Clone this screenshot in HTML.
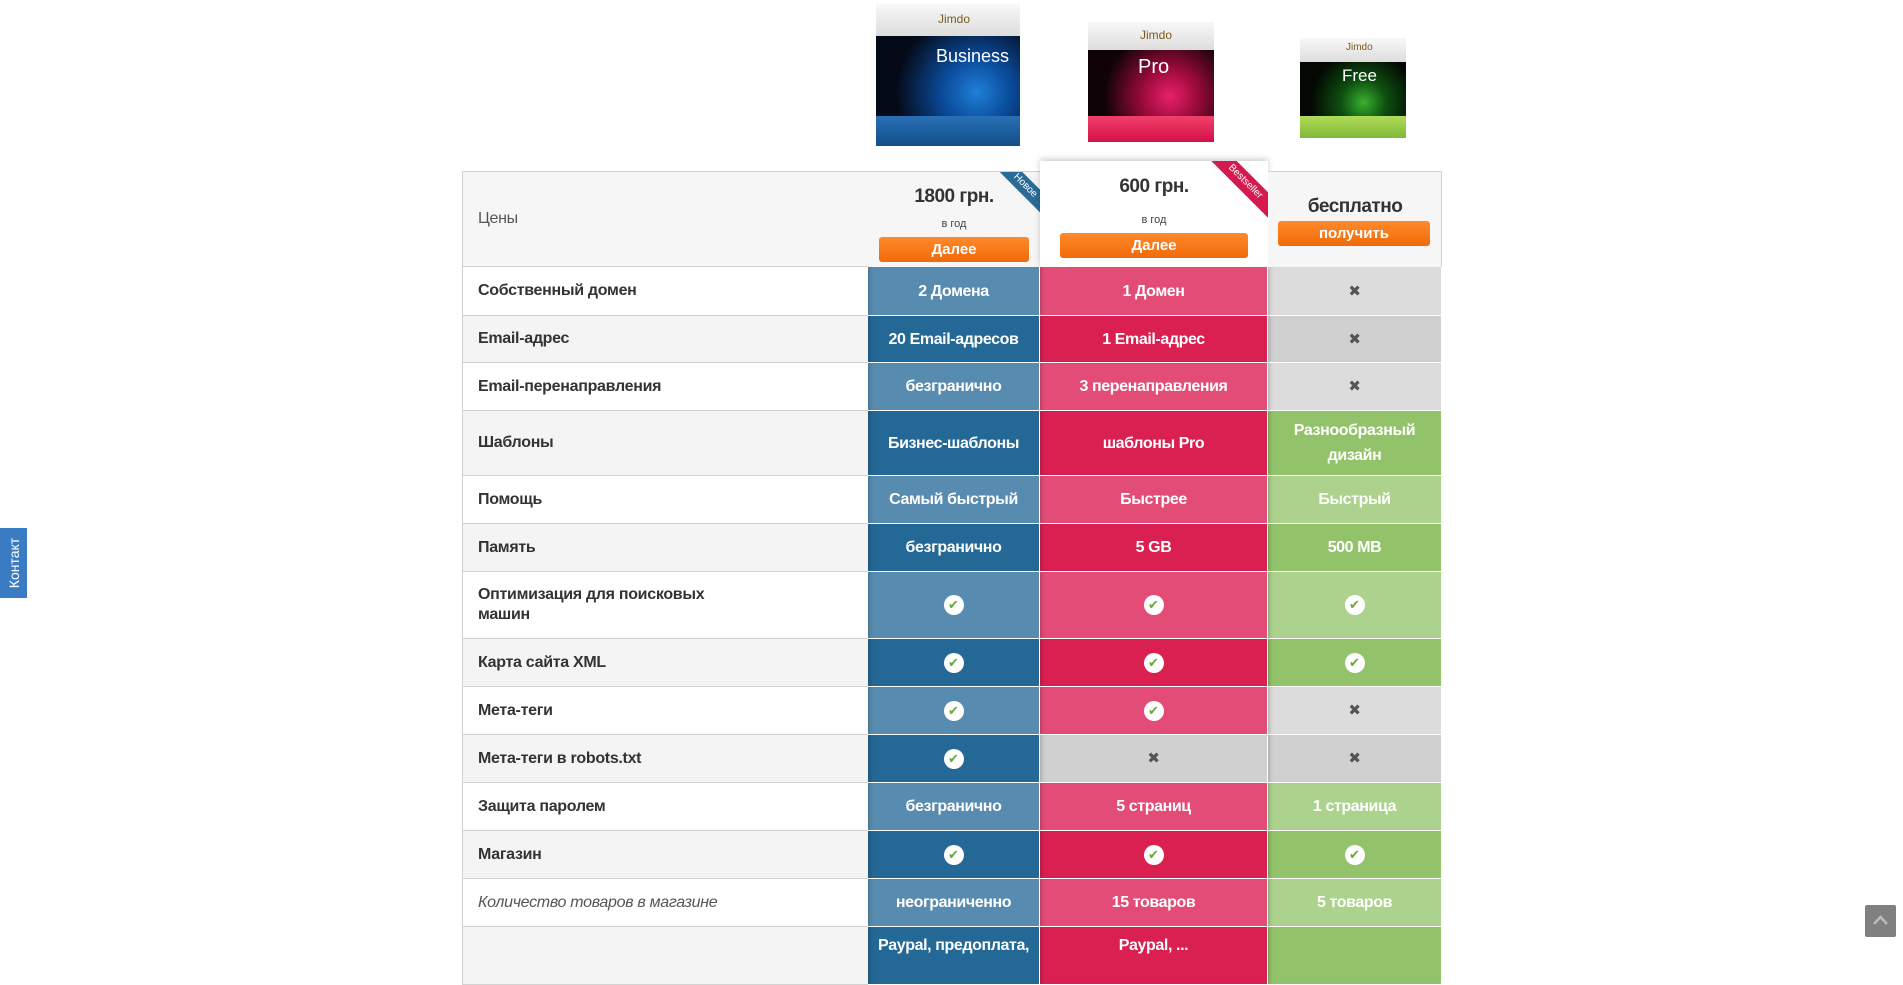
<!DOCTYPE html>
<html><head><meta charset="utf-8">
<style>
*{margin:0;padding:0;box-sizing:border-box}
body{width:1903px;height:955px;overflow:hidden;background:#fff;font-family:"Liberation Sans Narrow","Liberation Sans","DejaVu Sans",sans-serif;position:relative}
.abs{position:absolute}
.cell{position:absolute;display:flex;align-items:center;justify-content:center;text-align:center;color:#fff;font-weight:bold;font-size:16px;letter-spacing:-0.4px;line-height:25px;border-bottom:1px solid #fff}
.lab{position:absolute;display:flex;align-items:center;padding-left:15px;color:#333;font-weight:bold;font-size:16px;letter-spacing:-0.3px;line-height:20px;border-bottom:1px solid #d2d2d2;border-left:1px solid #d2d2d2}
.chk{width:20px;height:20px;border-radius:50%;background:#fff;color:#6aa83a;font-size:13px;line-height:20px;text-align:center;letter-spacing:0}
.x{color:#555;font-size:15px}
.btn{position:absolute;background:linear-gradient(#ff8a2c,#f06a0a);border-radius:3px;color:#fff;font-weight:bold;font-size:15px;display:flex;align-items:center;justify-content:center}
.box{position:absolute}
.box .top{position:absolute;left:0;right:0;top:0;background:linear-gradient(#f8f8f8,#ddd)}
.box .mid{position:absolute;left:0;right:0;background:#0a0a0a}
.box .bot{position:absolute;left:0;right:0;bottom:0}
.box .brand{position:absolute;font-size:12px;color:#7a5a1a}
.box .nm{position:absolute;color:#fff;font-size:20px;font-family:"Liberation Sans",sans-serif}
</style></head><body>

<div class="box" style="left:876px;top:4px;width:144px;height:142px">
 <div class="top" style="height:32px"></div>
 <div class="mid" style="top:32px;height:80px;background:radial-gradient(circle at 70% 70%,#1f7fd6 0,#0a4a9a 30%,#050a18 70%)"></div>
 <div class="bot" style="height:30px;background:linear-gradient(#2870b6,#134e8a)"></div>
 <div class="brand" style="left:62px;top:8px">Jimdo</div>
 <div class="nm" style="left:60px;top:42px;font-size:18px">Business</div>
</div>
<div class="box" style="left:1088px;top:22px;width:126px;height:120px">
 <div class="top" style="height:28px"></div>
 <div class="mid" style="top:28px;height:66px;background:radial-gradient(circle at 65% 70%,#e8206a 0,#9a0a3a 30%,#100308 70%)"></div>
 <div class="bot" style="height:26px;background:linear-gradient(#f0406a,#d41048)"></div>
 <div class="brand" style="left:52px;top:6px">Jimdo</div>
 <div class="nm" style="left:50px;top:34px">Pro</div>
</div>
<div class="box" style="left:1300px;top:38px;width:106px;height:100px">
 <div class="top" style="height:24px"></div>
 <div class="mid" style="top:24px;height:54px;background:radial-gradient(circle at 60% 75%,#3ab030 0,#0d5010 30%,#030803 70%)"></div>
 <div class="bot" style="height:22px;background:linear-gradient(#b0dc58,#80b838)"></div>
 <div class="brand" style="left:46px;top:4px;font-size:10px">Jimdo</div>
 <div class="nm" style="left:42px;top:28px;font-size:17px">Free</div>
</div>

<div class="lab" style="left:462px;top:171px;width:406px;height:96px;background:#f6f6f6;border-top:1px solid #d2d2d2;font-weight:normal;color:#555">Цены</div>
<div class="abs" style="left:868px;top:171px;width:172px;height:96px;background:#f6f6f6;border-top:1px solid #d2d2d2;overflow:hidden">
 <div class="abs" style="left:0;width:172px;top:14px;text-align:center;font-size:19px;font-weight:bold;color:#333;letter-spacing:-0.5px">1800 грн.</div>
 <div class="abs" style="left:0;width:172px;top:46px;text-align:center;font-size:11px;color:#444">в год</div>
 <div class="abs" style="left:122px;top:6px;width:70px;height:16px;background:#2a6a96;color:#fff;font-size:10px;text-align:center;line-height:16px;transform:rotate(45deg)">Новое</div>
</div>
<div class="btn" style="left:879px;top:237px;width:150px;height:25px">Далее</div>
<div class="abs" style="left:1040px;top:161px;width:228px;height:106px;background:#fff;box-shadow:0 -2px 6px rgba(0,0,0,.2);overflow:hidden">
 <div class="abs" style="left:0;width:228px;top:15px;text-align:center;font-size:19px;font-weight:bold;color:#333;letter-spacing:-0.5px">600 грн.</div>
 <div class="abs" style="left:0;width:228px;top:53px;text-align:center;font-size:11px;color:#444">в год</div>
 <div class="abs" style="left:162px;top:12px;width:86px;height:18px;background:#d41a4e;color:#fff;font-size:10px;text-align:center;line-height:18px;transform:rotate(45deg)">Bestseller</div>
</div>
<div class="btn" style="left:1060px;top:233px;width:188px;height:25px">Далее</div>
<div class="abs" style="left:1268px;top:171px;width:174px;height:96px;background:#f6f6f6;border-top:1px solid #d2d2d2;border-right:1px solid #d2d2d2">
 <div class="abs" style="left:0;width:174px;top:24px;text-align:center;font-size:19px;font-weight:bold;color:#333;letter-spacing:-0.5px">бесплатно</div>
</div>
<div class="btn" style="left:1278px;top:221px;width:152px;height:25px">получить</div>

<div id="rows"></div>

<div class="abs" style="left:0;top:528px;width:27px;height:70px;background:#3a7cc4;color:#fff;font-family:'Liberation Sans',sans-serif;font-size:14px"><div style="position:absolute;left:50%;top:50%;transform:translate(-50%,-50%) rotate(-90deg);white-space:nowrap">Контакт</div></div>
<div class="abs" style="left:1865px;top:905px;width:31px;height:32px;background:#808080;border-radius:2px">
 <svg width="31" height="32"><polyline points="9,19 15.5,12 22,19" fill="none" stroke="#bbb" stroke-width="2.5"/></svg>
</div>

<script>
const labels=["Собственный домен","Email-адрес","Email-перенаправления","Шаблоны","Помощь","Память","Оптимизация для поисковых<br>машин","Карта сайта XML","Мета-теги","Мета-теги в robots.txt","Защита паролем","Магазин","Количество товаров в магазине",""];
const biz=["2 Домена","20 Email-адресов","безгранично","Бизнес-шаблоны","Самый быстрый","безгранично","Y","Y","Y","Y","безгранично","Y","неограниченно","Paypal, предоплата,"];
const pro=["1 Домен","1 Email-адрес","3 перенаправления","шаблоны Pro","Быстрее","5 GB","Y","Y","Y","N","5 страниц","Y","15 товаров","Paypal, ..."];
const free=["N","N","N","Разнообразный<br>дизайн","Быстрый","500 MB","Y","Y","N","N","1 страница","Y","5 товаров",""];
const edges=[267,316,363,411,476,524,572,639,687,735,783,831,879,927,985];
const cols=[[868,172,"#588bb0","#246896",biz,"business"],[1040,228,"#e44c78","#da1f51",pro,"pro"],[1268,174,"#acd28e","#92c36a",free,"free"]];
const root=document.getElementById('rows');
labels.forEach((l,i)=>{
 const t=edges[i],h=edges[i+1]-t;
 const d=document.createElement('div');
 d.className='lab';
 
 
 d.style.cssText=`left:462px;top:${t}px;width:406px;height:${h}px;background:${i%2?'#f4f4f4':'#fff'}`;
 if(i==12){d.style.fontWeight='normal';d.style.fontStyle='italic';d.style.color='#555';}
 d.innerHTML=l;root.appendChild(d);
 cols.forEach(c=>{
  const v=c[4][i];
  const e=document.createElement('div');
  e.className='cell';
  
  
  let bg=i%2?c[3]:c[2];
  if(v==='N')bg=i%2?'#d0d0d0':'#dcdcdc';
  e.style.cssText=`left:${c[0]}px;top:${t}px;width:${c[1]}px;height:${h}px;background:${bg};border-right:1px solid #fff;box-shadow:inset 5px 0 5px -4px rgba(0,0,0,.25)`;
  if(i==13){e.style.alignItems='flex-start';e.style.paddingTop='6px';}
  if(v==='Y')e.innerHTML='<div class="chk">✔</div>';
  else if(v==='N')e.innerHTML='<span class="x">✖</span>';
  else e.innerHTML=v;
  root.appendChild(e);
 });
});
</script>
</body></html>
